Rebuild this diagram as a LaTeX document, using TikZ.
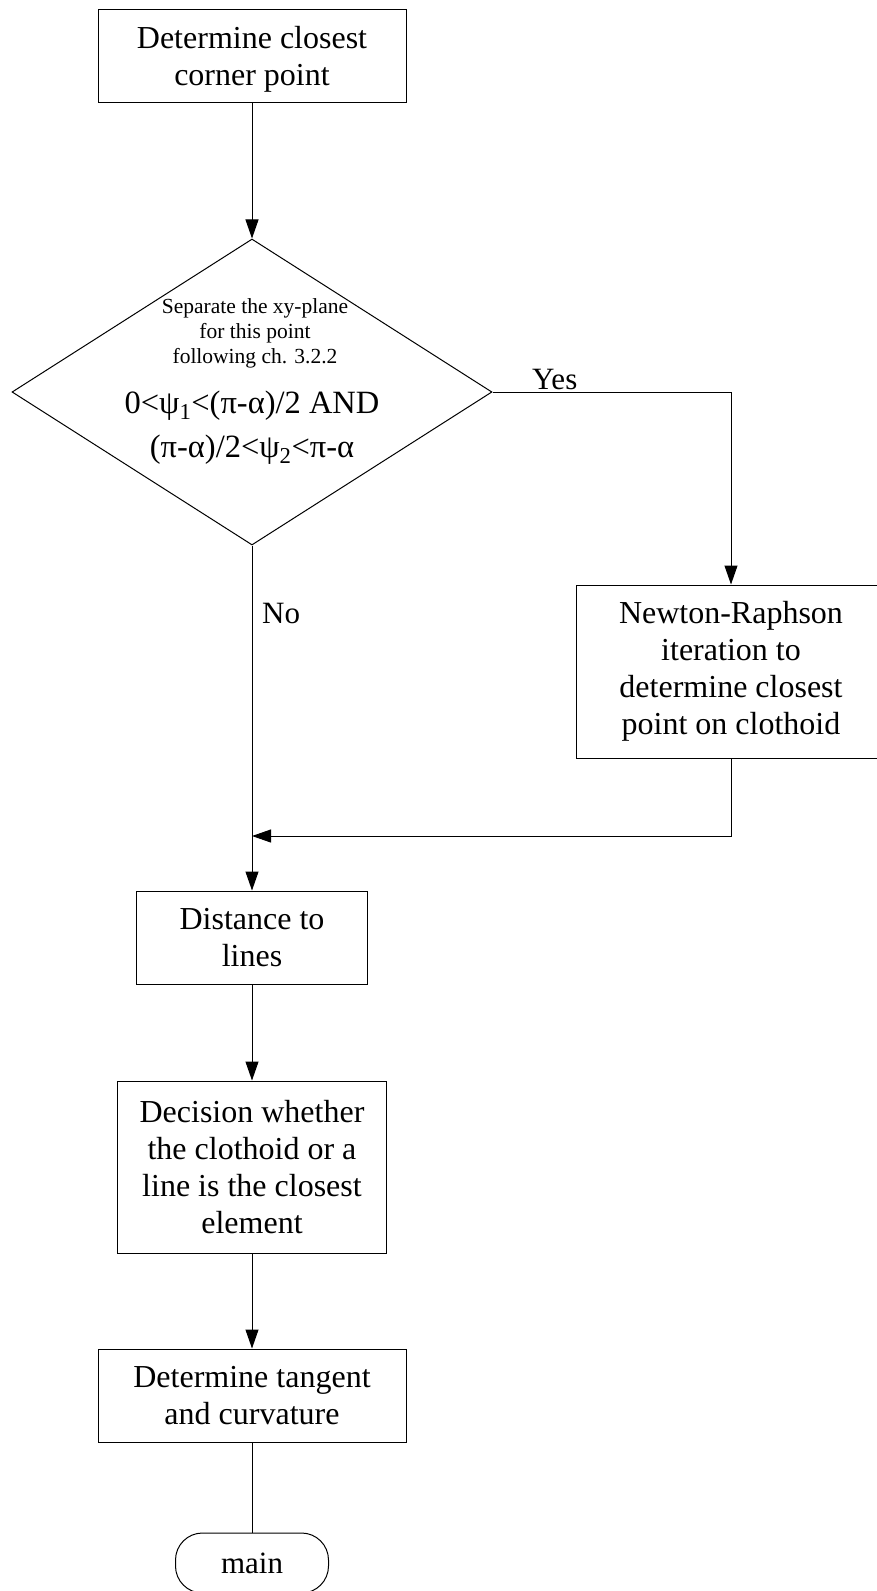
\documentclass[tikz,border=0pt]{standalone}
\usepackage{fontspec}
\setmainfont{Liberation Serif}
\usetikzlibrary{arrows.meta,shapes.geometric}
\begin{document}
\begin{tikzpicture}[x=1pt,y=-1pt,
  box/.style={draw, line width=1pt, rectangle, align=center, inner sep=0pt, font=\fontsize{32}{37}\selectfont},
  conn/.style={line width=1pt},
  arr/.style={conn, -{Triangle[length=19pt,width=13pt]}},
  lbl/.style={font=\fontsize{31}{36}\selectfont, inner sep=0pt},
  small/.style={font=\fontsize{21.5}{24.5}\selectfont, inner sep=0pt, anchor=base},
  formula/.style={font=\fontsize{32.5}{41}\selectfont, inner sep=0pt, anchor=base}]
\clip (0,0) rectangle (877,1591);
\fill[white] (0,0) rectangle (877,1591);
\node[box, minimum width=308pt, minimum height=93pt] (start) at (252,55.5) {\rule{0pt}{30pt}Determine closest\\corner point};
\node[draw, line width=1pt, diamond, minimum width=480pt, minimum height=306pt, inner sep=0pt] (dec) at (252,392) {};
\node[small] (s1) at (255,313) {Separate the xy-plane};
\node[small] (s2) at (255,338) {for this point};
\node[small] (s3) at (255,363) {following ch. 3.2.2};
\node[formula] (f1) at (252,413) {0<ψ\textsubscript{1}<(π-α)/2 AND};
\node[formula] (f2) at (252,457) {(π-α)/2<ψ\textsubscript{2}<π-α};
\node[lbl, anchor=base west] (yes) at (532,389) {Yes};
\node[lbl, anchor=base west] (no) at (262,623) {No};
\node[box, minimum width=310pt, minimum height=173pt] (newton) at (731,671.5) {Newton-Raphson\\iteration to\\determine closest\\point on clothoid};
\node[box, minimum width=231pt, minimum height=93pt] (dist) at (252,937.5) {Distance to\\lines};
\node[box, minimum width=269pt, minimum height=172pt] (decision) at (252,1167) {Decision whether\\the clothoid or a\\line is the closest\\element};
\node[box, minimum width=308pt, minimum height=93pt] (tangent) at (252,1395.5) {Determine tangent\\and curvature};
\node[draw, line width=1pt, rectangle, rounded corners=27pt, minimum width=153pt, minimum height=60pt, inner sep=0pt, font=\fontsize{31}{36}\selectfont] (main) at (252,1563) {main};
\coordinate (merge) at (252,836);
\draw[arr] (start) -- (dec);
\draw[arr] (dec.east) -| (newton.north);
\draw[arr] (dec.south) -- (dist.north);
\draw[arr] (newton.south) |- (merge);
\draw[arr] (dist) -- (decision);
\draw[arr] (decision) -- (tangent);
\draw[conn] (tangent) -- (main);
\end{tikzpicture}
\end{document}
